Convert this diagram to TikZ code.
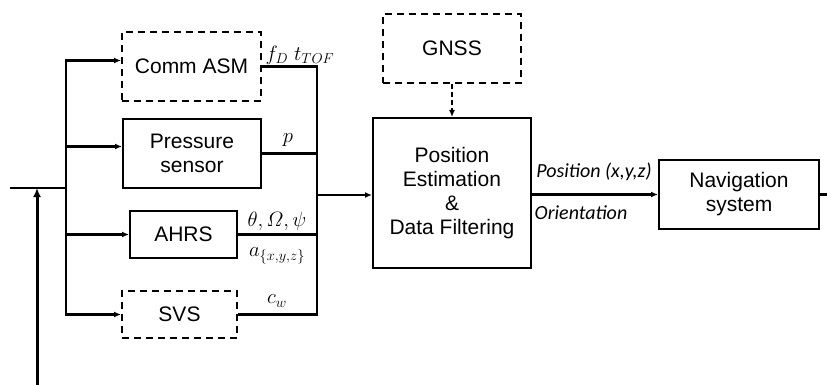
\documentclass[tikz,border=0pt]{standalone}
\usepackage{amsmath}
\usepackage[no-math]{fontspec}
\setmainfont{Liberation Sans}
\newfontfamily\lblfont{Carlito}
\usepackage{tikz}
\usetikzlibrary{arrows.meta}

\begin{document}
\begin{tikzpicture}[x=1pt,y=-1pt]
\tikzstyle{every node}=[font=\fontsize{21}{24}\selectfont]
\tikzstyle{block}=[draw, line width=2pt, align=center, inner sep=0pt]
\tikzstyle{dblock}=[block, dash pattern=on 7pt off 5pt]
\tikzstyle{bus}=[line width=2.2pt]
\tikzstyle{lbl}=[inner sep=0pt]
\useasboundingbox (0,0) rectangle (827,385);
% sensor blocks
\node [dblock, minimum width=139pt, minimum height=69pt] (comm) at (191.5,66.5) {Comm ASM};
\node [block, minimum width=138pt, minimum height=69pt] (press) at (192,153.5) {Pressure\\sensor};
\node [block, minimum width=107pt, minimum height=47pt] (ahrs) at (183.5,234.5) {AHRS};
\node [dblock, minimum width=115pt, minimum height=47pt] (svs) at (179.5,314.5) {SVS};
% estimation chain
\node [dblock, minimum width=138pt, minimum height=69pt] (gnss) at (452,48.5) {GNSS};
\node [block, minimum width=158pt, minimum height=150pt] (pos) at (452,193) {Position\\Estimation\\\&\\Data Filtering};
\node [block, minimum width=160pt, minimum height=69pt] (nav) at (739,194.5) {Navigation\\system};
% bus points
\coordinate (in) at (10,188);
\coordinate (split) at (66,188);
\coordinate (src) at (37,385);
\coordinate (join) at (317,195);
\coordinate (out) at (827,194.5);
% input side
\draw [bus] (in) -- (split);
\draw [line width=3pt,-{Latex[length=9pt,width=8pt]}] (src) -- (src |- in);
\draw [bus,-{Latex[length=7pt,width=6pt]}] (split) |- ([yshift=6pt]comm.west);
\draw [bus,-{Latex[length=7pt,width=6pt]}] (split) |- ([yshift=7pt]press.west);
\draw [bus,-{Latex[length=7pt,width=6pt]}] (split) |- (ahrs.west);
\draw [bus,-{Latex[length=7pt,width=6pt]}] (split) |- (svs.west);
% output side
\draw [bus] (comm.east) -| (join);
\draw [bus] (press.east) -| (join);
\draw [bus] (ahrs.east) -| (join);
\draw [bus] (svs.east) -| (join);
\draw [bus,-{Latex[length=7pt,width=6pt]}] (join) -- (join -| pos.west);
\draw [bus,dash pattern=on 5pt off 3pt,-{Latex[length=7pt,width=6pt]}] (gnss) -- (pos);
\draw [bus,-{Latex[length=7pt,width=6pt]}] (pos.east |- nav.west) -- (nav.west);
\draw [bus] (nav.east) -- (out);
% labels
\node [lbl] (fd) at (300,55) {$f_D\;t_{TOF}$};
\node [lbl] (pp) at (288,140) {$p$};
\node [lbl] (ang) at (277,221) {$\theta,\varOmega,\psi$};
\node [lbl] (acc) at (277,256) {$a_{\{x,y,z\}}$};
\node [lbl] (cw) at (277,301) {$c_w$};
\node [lbl, font=\lblfont\itshape\fontsize{20}{22}\selectfont] (posl) at (594,172) {Position (x,y,z)};
\node [lbl, font=\lblfont\itshape\fontsize{20}{22}\selectfont] (ori) at (581,213) {Orientation};
\end{tikzpicture}
\end{document}
